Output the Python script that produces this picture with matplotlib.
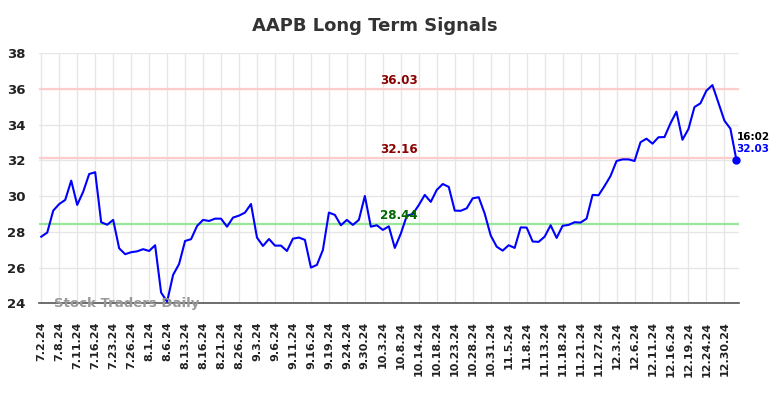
import numpy as np
import matplotlib
matplotlib.use("Agg")
import matplotlib.pyplot as plt
import matplotlib.transforms as mtransforms


# ============================================================
# 1. DATA
# ============================================================

TITLE = "AAPB Long Term Signals"

prices = [
    27.73, 27.96, 29.19, 29.56, 29.79, 30.87, 29.51, 30.25, 31.24, 31.34,
    28.54, 28.40, 28.67, 27.08, 26.75, 26.86, 26.91, 27.03, 26.93, 27.25,
    24.60, 24.09, 25.59, 26.20, 27.49, 27.59, 28.33, 28.67, 28.61, 28.74,
    28.74, 28.29, 28.80, 28.91, 29.08, 29.56, 27.68, 27.21, 27.60, 27.23,
    27.23, 26.93, 27.62, 27.68, 27.55, 26.00, 26.15, 26.99, 29.08, 28.95,
    28.37, 28.67, 28.39, 28.67, 30.01, 28.29, 28.37, 28.11, 28.31, 27.10,
    27.90, 28.90, 29.00, 29.50, 30.07, 29.68, 30.35, 30.68, 30.52, 29.19,
    29.18, 29.32, 29.88, 29.94, 29.02, 27.80, 27.17, 26.95, 27.25, 27.10,
    28.25, 28.24, 27.46, 27.44, 27.73, 28.37, 27.66, 28.34, 28.39, 28.54,
    28.52, 28.74, 30.07, 30.05, 30.57, 31.13, 31.97, 32.06, 32.06, 31.97,
    33.02, 33.22, 32.94, 33.30, 33.31, 34.08, 34.73, 33.16, 33.76, 34.99,
    35.20, 35.91, 36.22, 35.23, 34.23, 33.78, 32.03,
]

tick_labels = [
    "7.2.24", "7.8.24", "7.11.24", "7.16.24", "7.23.24", "7.26.24",
    "8.1.24", "8.6.24", "8.13.24", "8.16.24", "8.21.24", "8.26.24",
    "9.3.24", "9.6.24", "9.11.24", "9.16.24", "9.19.24", "9.24.24",
    "9.30.24", "10.3.24", "10.8.24", "10.14.24", "10.18.24", "10.23.24",
    "10.28.24", "10.31.24", "11.5.24", "11.8.24", "11.13.24", "11.18.24",
    "11.21.24", "11.27.24", "12.3.24", "12.6.24", "12.11.24", "12.16.24",
    "12.19.24", "12.24.24", "12.30.24",
]

TICK_STEP = 3

upper_levels = [36.03, 32.16]
lower_levels = [28.44]

last_time = "16:02"


# ============================================================
# 2. FIGURE
# ============================================================

x = np.arange(len(prices))
tick_pos = x[::TICK_STEP][:len(tick_labels)]

fig = plt.figure(figsize=(7.84, 3.98), dpi=100)
ax = fig.add_axes([0.0501, 0.238, 0.893, 0.628])

for lvl in upper_levels:
    ax.axhline(lvl, color="#ffcccc", lw=1.6, zorder=1)
for lvl in lower_levels:
    ax.axhline(lvl, color="#99e699", lw=1.6, zorder=1)

ax.plot(x, prices, color="blue", lw=1.5, zorder=3)
ax.plot(x[-1], prices[-1], "o", color="blue", ms=5, zorder=4, clip_on=False)

ax.set_xlim(-0.33, 116.5)
ax.set_ylim(24, 38)
ax.set_yticks(np.arange(24, 39, 2))
ax.set_xticks(tick_pos)
ax.set_xticklabels(tick_labels, rotation=90, fontsize=8, fontweight="bold",
                   color="#222222")
for lab in ax.get_yticklabels():
    lab.set_fontsize(9.5)
    lab.set_fontweight("bold")
    lab.set_color("#222222")

ax.tick_params(axis="x", length=0, pad=13)
ax.tick_params(axis="y", length=0, pad=10)
ax.grid(True, color="#e6e6e6", lw=1)
ax.set_axisbelow(True)

for side in ("top", "right", "left"):
    ax.spines[side].set_visible(False)
ax.spines["bottom"].set_color("#555555")
ax.spines["bottom"].set_linewidth(1.2)


# ============================================================
# 3. TEXT
# ============================================================

blend = mtransforms.blended_transform_factory(ax.transAxes, ax.transData)

for lvl in upper_levels:
    ax.annotate(f"{lvl:.2f}", xy=(0.514, lvl), xycoords=blend,
                xytext=(0, 6), textcoords="offset points",
                ha="center", va="center", fontsize=8.6,
                fontweight="bold", color="#8b0000", zorder=5)
for lvl in lower_levels:
    ax.annotate(f"{lvl:.2f}", xy=(0.514, lvl), xycoords=blend,
                xytext=(0, 6), textcoords="offset points",
                ha="center", va="center", fontsize=8.6,
                fontweight="bold", color="#006400", zorder=5)

ax.annotate(last_time, xy=(x[-1], prices[-1]), xytext=(0, 16.5),
            textcoords="offset points", ha="left", va="center",
            fontsize=7.5, fontweight="bold", color="black",
            annotation_clip=False)
ax.annotate(f"{prices[-1]:.2f}", xy=(x[-1], prices[-1]), xytext=(0, 8),
            textcoords="offset points", ha="left", va="center",
            fontsize=7.5, fontweight="bold", color="blue",
            annotation_clip=False)

ax.text(0.021, -0.013, "Stock Traders Daily", transform=ax.transAxes,
        ha="left", va="baseline", fontsize=9.5, fontweight="bold",
        color="#999999", zorder=6)

fig.text(375 / 784, 1 - 26 / 398, TITLE, ha="center", va="center",
         fontsize=13, fontweight="bold", color="#333333")

fig.savefig("out.png", dpi=100)
